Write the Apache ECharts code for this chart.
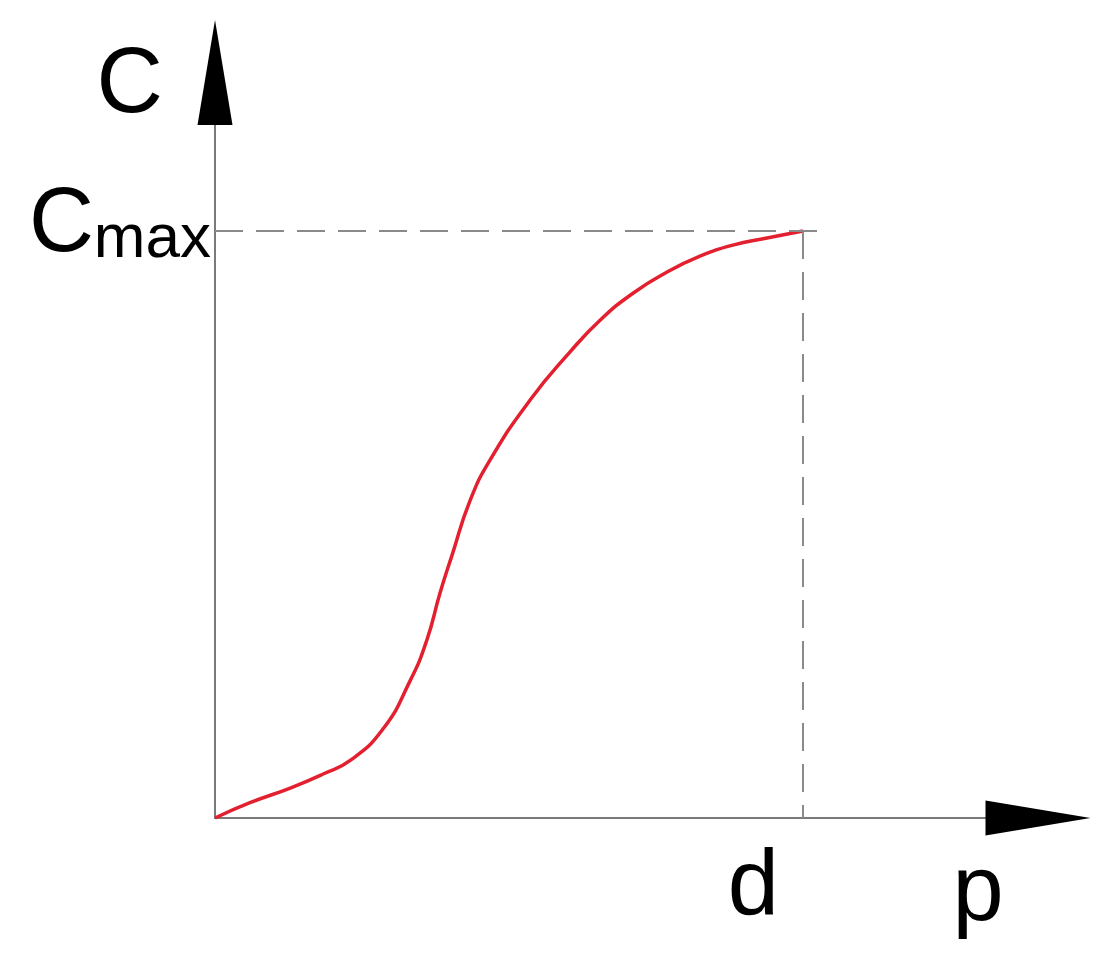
<!DOCTYPE html>
<html>
<head>
<meta charset="utf-8">
<script src="https://cdn.jsdelivr.net/npm/echarts@6/dist/echarts.min.js"></script>
<style>html,body{margin:0;padding:0;background:#fff;}#chart{width:1104px;height:964px;}</style>
</head>
<body>
<div id="chart"></div>
<script>
// Data (p in units where d = 100, C in units where Cmax = 100)
const pValues = [0, 5.95, 12.8, 18.4, 23, 28.6, 33.2, 36, 38.3, 40.3, 43.4, 46.8, 53.6, 60.4, 65.5, 71.1, 76.9, 82.5, 88.1, 93.9, 100];
const cValues = [0, 2.6, 5.1, 7.5, 9.8, 15.2, 23.4, 30.2, 38.4, 44.7, 54.1, 61, 71.2, 79.4, 84.8, 89.4, 93, 95.7, 97.6, 98.8, 100];
const dValue = 100;
const cMaxValue = 100;
const xTickLabels = ['d'];
const yTickLabels = ['Cmax'];
const axisNames = { x: 'p', y: 'C' };

const FONT = 'Liberation Sans, Arial, sans-serif';
const arrowPath = 'path://M5,0 L10,30 L0,30 Z';
const X_MAX = 140, Y_MAX = 127;

const chart = echarts.init(document.getElementById('chart'));
const baseAxis = { type: 'value', min: 0, splitLine: { show: false }, axisTick: { show: false } };

chart.setOption({
  backgroundColor: '#ffffff',
  animation: false,
  grid: { left: 215, right: 66, top: 72.5, bottom: 146, containLabel: false },
  xAxis: [
    Object.assign({}, baseAxis, {
      max: X_MAX, position: 'bottom',
      axisLine: { onZero: false, lineStyle: { color: '#7a7a7a', width: 2 } },
      axisLabel: {
        customValues: [dValue],
        formatter: () => xTickLabels[0],
        fontFamily: FONT, fontSize: 92, color: '#000',
        align: 'right', padding: [0, 24, 0, 0], margin: 25
      },
      name: axisNames.x, nameLocation: 'end', nameGap: -60,
      nameTextStyle: { fontFamily: FONT, fontSize: 92, color: '#000', align: 'center', verticalAlign: 'top', padding: [31, 0, 0, 0] }
    }),
    Object.assign({}, baseAxis, {
      max: X_MAX, position: 'bottom',
      axisLine: { onZero: false, symbol: ['none', arrowPath], symbolSize: [36, 105], lineStyle: { color: '#000', width: 0 } },
      axisLabel: { show: false }
    })
  ],
  yAxis: [
    Object.assign({}, baseAxis, {
      max: Y_MAX, position: 'left',
      axisLine: { onZero: false, lineStyle: { color: '#7a7a7a', width: 2 } },
      axisLabel: {
        customValues: [cMaxValue],
        formatter: () => '{c|' + yTickLabels[0].charAt(0) + '}{s|' + yTickLabels[0].slice(1) + '}',
        margin: 4, align: 'right',
        rich: {
          c: { fontFamily: FONT, fontSize: 90, color: '#000', verticalAlign: 'bottom', lineHeight: 92 },
          s: { fontFamily: FONT, fontSize: 62, color: '#000', verticalAlign: 'bottom', lineHeight: 92 }
        },
        padding: [0, 0, 12, 0]
      },
      name: axisNames.y, nameLocation: 'end', nameGap: -14,
      nameTextStyle: { fontFamily: FONT, fontSize: 92, color: '#000', align: 'right', verticalAlign: 'middle', padding: [0, 52, 0, 0] }
    }),
    Object.assign({}, baseAxis, {
      max: Y_MAX, position: 'left',
      axisLine: { onZero: false, symbol: ['none', arrowPath], symbolSize: [36, 105], lineStyle: { color: '#000', width: 0 } },
      axisLabel: { show: false }
    })
  ],
  series: [{
    type: 'line',
    xAxisIndex: 0, yAxisIndex: 0,
    data: pValues.map((p, i) => [p, cValues[i]]),
    smooth: 0.5,
    showSymbol: false,
    lineStyle: { color: '#e3202f', width: 3.5 },
    markLine: {
      silent: true,
      symbol: ['none', 'none'],
      label: { show: false },
      lineStyle: { color: '#8a8a8a', width: 2, type: [28, 13] },
      data: [
        [{ coord: [0, cMaxValue] }, { coord: [dValue + 3, cMaxValue] }],
        [{ coord: [dValue, cMaxValue] }, { coord: [dValue, 0] }]
      ]
    },
    z: 3
  }]
});
</script>
</body>
</html>
